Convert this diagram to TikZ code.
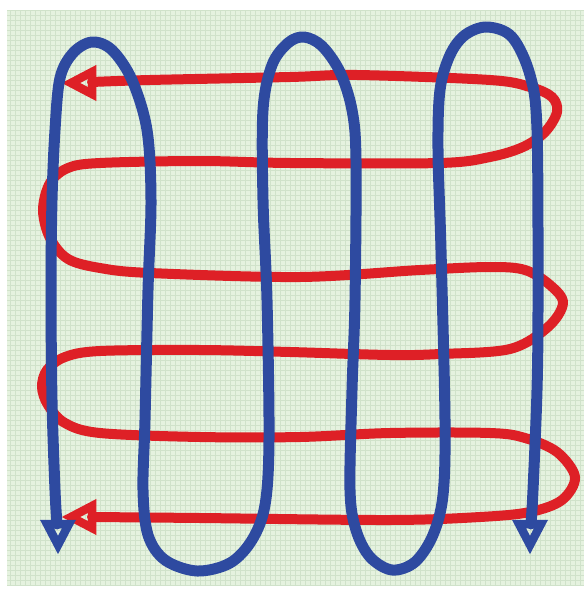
\documentclass[tikz,border=0pt]{standalone}
\definecolor{paperGreen}{RGB}{229, 242, 223}
\definecolor{paperLine}{RGB}{208, 226, 202}
\definecolor{penBlue}{RGB}{46, 74, 160}
\definecolor{penRed}{RGB}{222, 32, 38}

\begin{document}
\begin{tikzpicture}[x=1pt, y=-1pt,
    redpen/.style={penRed, line width=10pt, line cap=round, line join=round},
    bluepen/.style={penBlue, line width=11pt, line cap=round, line join=round},
    headpen/.style={line width=8.5pt, line join=miter}]
    \useasboundingbox (0,0) rectangle (584,591);
    % squared paper
    \fill[paperGreen] (7,10) rectangle (584,586);
    \draw[paperLine, line width=0.6pt] (7,10) grid[step=5pt] (584,586);
    % red path, left to right and back
    \draw[redpen] plot[smooth, tension=0.55] coordinates {
      (92,82) (150,80) (290,77) (357,75) (490,80) (530,87) (552,97) (557,112)
      (545,132) (523,147) (490,157) (440,163) (290,163) (200,161) (100,163)
      (68,168) (50,183) (43,210) (50,238) (68,259) (100,268) (150,273)
      (300,277) (420,270) (490,267) (525,270) (550,285) (563,303) (548,327)
      (510,349) (440,354) (390,355) (290,352) (200,350) (100,351) (65,357)
      (47,370) (42,387) (48,405) (65,423) (100,433) (200,437) (300,437)
      (390,433) (490,433) (525,438) (557,452) (575,477) (562,500) (530,512)
      (480,517) (390,520) (200,518) (92,517)};
    \draw[penRed, headpen] (71,83) -- (92,72) -- (92,94) -- cycle;
    \draw[penRed, headpen] (71,517) -- (92,506) -- (92,528) -- cycle;
    % blue path, up and down
    \draw[bluepen] plot[smooth, tension=0.55] coordinates {
      (57,524) (55,490) (52,400) (51,290) (52,200) (55,130) (60,78) (73,53)
      (92,42) (112,50) (132,80) (147,130) (151,200) (148,290) (145,420)
      (143,490) (148,535) (165,560) (197,571) (230,563) (252,540) (265,505)
      (269,440) (267,300) (263,200) (263,110) (272,65) (288,43) (304,37)
      (322,46) (340,72) (352,110) (356,160) (355,300) (352,390) (350,490)
      (356,530) (370,557) (392,570) (415,562) (433,535) (443,495) (445,420)
      (441,250) (438,150) (440,90) (450,55) (465,35) (487,27) (512,37)
      (530,75) (537,130) (538,300) (537,390) (533,490) (531,524)};
    \draw[penBlue, headpen] (58,545) -- (47,524) -- (69,524) -- cycle;
    \draw[penBlue, headpen] (530,545) -- (519,524) -- (541,524) -- cycle;
\end{tikzpicture}
\end{document}
